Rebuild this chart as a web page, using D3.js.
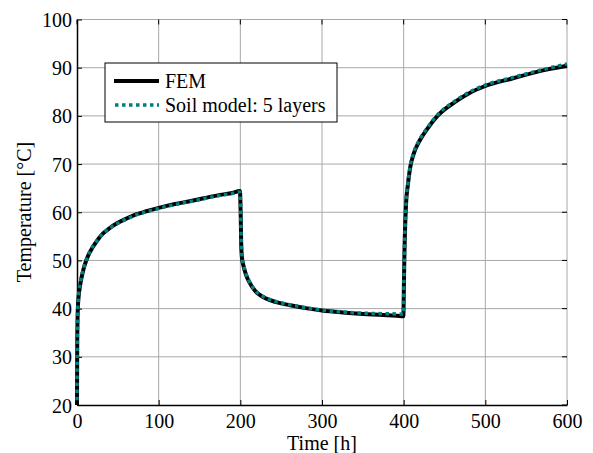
<!DOCTYPE html>
<html>
<head>
<meta charset="utf-8">
<script src="https://cdn.jsdelivr.net/npm/d3@7.9.0/dist/d3.min.js"></script>
<style>
  body { margin: 0; background: #fff; }
  svg { display: block; }
  svg text { font-family: "Liberation Serif", "Times New Roman", serif; fill: #000; }
</style>
</head>
<body>
<svg id="chart"></svg>
<script>
const width = 593;
const height = 453;

// time [h] and temperature [°C]
const femTime = [0, 0.3, 1, 2, 4, 8, 12, 16, 25, 32, 40, 50, 62, 73, 85, 100, 120, 138, 155, 175, 190, 199.5,
  200.5, 201, 202, 204, 207, 211, 218, 228, 245, 261, 280, 300, 325, 351, 375, 392, 399.6,
  400.3, 401, 402, 403, 405, 408, 412, 420, 428, 442, 463, 479, 500, 534, 575, 600];
const femTemp = [20, 33, 40, 42.5, 45, 48.2, 50.3, 51.8, 54.2, 55.6, 56.7, 57.8, 58.8, 59.6, 60.2, 60.9, 61.7, 62.3, 62.9, 63.6, 64.0, 64.4,
  59, 54, 50.5, 48.8, 47, 45.5, 43.7, 42.4, 41.3, 40.7, 40.1, 39.6, 39.2, 38.9, 38.7, 38.5, 38.4,
  45, 52, 58, 62, 65.5, 69.3, 72, 75, 77.1, 80.1, 82.9, 84.6, 86.2, 87.8, 89.6, 90.4];

const soilTime = [0, 0.3, 1, 2, 4, 8, 12, 16, 25, 32, 40, 50, 62, 73, 85, 100, 120, 138, 155, 175, 190, 199.5,
  200.5, 201, 202, 204, 207, 211, 218, 228, 245, 261, 280, 300, 325, 351, 375, 392, 399.6,
  400.3, 401, 402, 403, 405, 408, 412, 420, 428, 442, 463, 479, 500, 534, 575, 600];
const soilTemp = [21, 34, 40.3, 42.8, 45.2, 48.3, 50.4, 51.9, 54.2, 55.6, 56.7, 57.7, 58.7, 59.5, 60.1, 60.8, 61.6, 62.2, 62.8, 63.5, 63.9, 64.2,
  59.5, 54.5, 51, 49, 47.2, 45.6, 43.8, 42.5, 41.4, 40.8, 40.2, 39.7, 39.3, 39.05, 38.95, 38.9, 38.85,
  45.5, 52.5, 58.5, 62.3, 65.7, 69.5, 72.2, 75.2, 77.3, 80.3, 83.1, 84.8, 86.4, 88.0, 89.8, 90.8];

const xTicks = [0, 100, 200, 300, 400, 500, 600];
const yTicks = [20, 30, 40, 50, 60, 70, 80, 90, 100];

const seriesNames = ["FEM", "Soil model: 5 layers"];

const fontSize = "20px";

const svg = d3.select("#chart").attr("width", width).attr("height", height);

const x = d3.scaleLinear().domain([0, 600]).range([77, 567]);
const y = d3.scaleLinear().domain([20, 100]).range([405, 19.5]);

// grid
const grid = svg.append("g").attr("stroke", "#a8a8a8").attr("stroke-width", 1);
grid.selectAll("line.gx").data(xTicks.slice(1)).enter().append("line")
  .attr("x1", d => x(d)).attr("x2", d => x(d))
  .attr("y1", y(20)).attr("y2", y(100));
grid.selectAll("line.gy").data(yTicks.slice(1)).enter().append("line")
  .attr("x1", x(0)).attr("x2", x(600))
  .attr("y1", d => y(d)).attr("y2", d => y(d));

// axes
const xAxis = d3.axisBottom(x).tickValues(xTicks).tickSizeInner(-5).tickSizeOuter(0).tickPadding(9);
const yAxis = d3.axisLeft(y).tickValues(yTicks).tickSizeInner(-5).tickSizeOuter(0).tickPadding(5);

const gx = svg.append("g").attr("transform", `translate(0,${y(20)})`).call(xAxis);
const gy = svg.append("g").attr("transform", `translate(${x(0)},0)`).call(yAxis);
[gx, gy].forEach(g => {
  g.attr("font-family", "Liberation Serif").attr("font-size", 20);
  g.select(".domain").attr("stroke", "#000").attr("stroke-width", 1.5);
  g.selectAll(".tick line").attr("stroke", "#000");
  g.selectAll(".tick text").attr("fill", "#000");
});
gy.selectAll(".tick text").attr("dy", "0.35em");

// mirrored ticks on top and right
const mt = svg.append("g").attr("stroke", "#000");
mt.selectAll("line.tt").data(xTicks).enter().append("line")
  .attr("x1", d => x(d)).attr("x2", d => x(d)).attr("y1", y(100)).attr("y2", y(100) + 5);
mt.selectAll("line.tr").data(yTicks).enter().append("line")
  .attr("x1", x(600)).attr("x2", x(600) - 5).attr("y1", d => y(d)).attr("y2", d => y(d));

// lines
const line = d3.line().x(d => x(d[0])).y(d => y(d[1])).curve(d3.curveMonotoneX);
const femData = femTime.map((t, i) => [t, femTemp[i]]);
const soilData = soilTime.map((t, i) => [t, soilTemp[i]]);

svg.append("path").datum(femData)
  .attr("fill", "none").attr("stroke", "#000").attr("stroke-width", 4)
  .attr("d", line);
svg.append("path").datum(soilData)
  .attr("fill", "none").attr("stroke", "#008080").attr("stroke-width", 3.5)
  .attr("stroke-dasharray", "3.5,3.5")
  .attr("d", line);

// axis labels
svg.append("text")
  .attr("x", 322).attr("y", 450)
  .attr("text-anchor", "middle").style("font-size", fontSize)
  .text("Time [h]");
svg.append("text")
  .attr("transform", `translate(31,${212}) rotate(-90)`)
  .attr("text-anchor", "middle").style("font-size", fontSize)
  .text("Temperature [°C]");

// legend
const legend = svg.append("g").attr("transform", "translate(105,63)");
legend.append("rect")
  .attr("width", 232).attr("height", 59)
  .attr("fill", "#fff").attr("stroke", "#000").attr("stroke-width", 1);
legend.append("line")
  .attr("x1", 9).attr("x2", 54).attr("y1", 18).attr("y2", 18)
  .attr("stroke", "#000").attr("stroke-width", 4);
legend.append("line")
  .attr("x1", 10).attr("x2", 54).attr("y1", 42).attr("y2", 42)
  .attr("stroke", "#008080").attr("stroke-width", 3.5).attr("stroke-dasharray", "3.5,3.5");
legend.selectAll("text.lab").data(seriesNames).enter().append("text")
  .attr("x", 60).attr("y", (d, i) => 25 + i * 24)
  .style("font-size", fontSize)
  .text(d => d);
</script>
</body>
</html>
